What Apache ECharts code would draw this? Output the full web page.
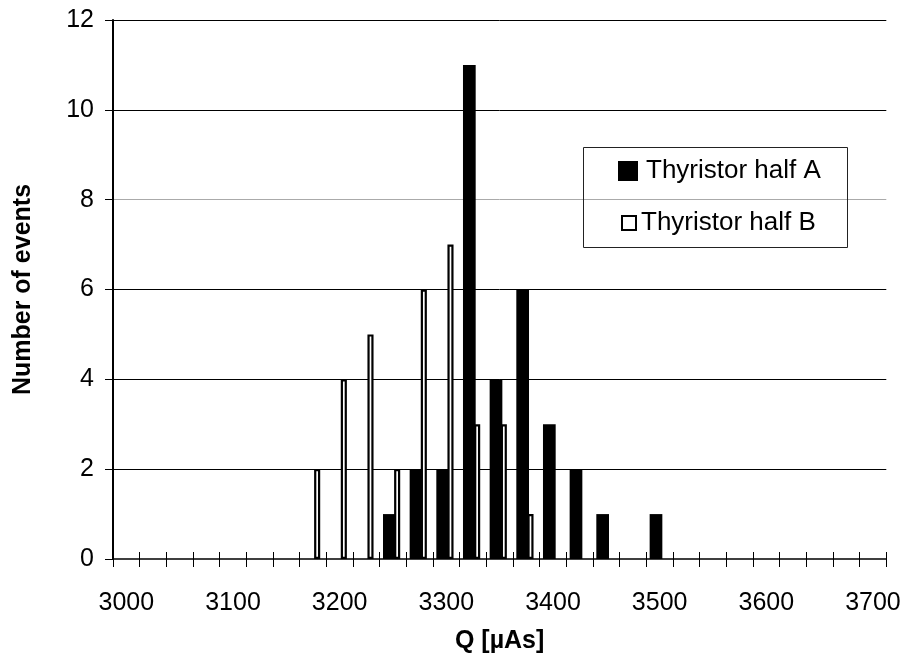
<!DOCTYPE html>
<html>
<head>
<meta charset="utf-8">
<script src="https://cdn.jsdelivr.net/npm/echarts@6/dist/echarts.min.js"></script>
<style>
html,body{margin:0;padding:0;background:#fff;}
#chart{width:905px;height:657px;}
</style>
</head>
<body>
<div id="chart"></div>
<script>
const categories = ['3000','3025','3050','3075','3100','3125','3150','3175','3200','3225','3250','3275','3300','3325','3350','3375','3400','3425','3450','3475','3500','3525','3550','3575','3600','3625','3650','3675','3700'];
const halfA = [0,0,0,0,0,0,0,0,0,0,1,2,2,11,4,6,3,2,1,0,1,0,0,0,0,0,0,0,0];
const halfB = [0,0,0,0,0,0,0,2,4,5,2,6,7,3,3,1,0,0,0,0,0,0,0,0,0,0,0,0,0];
const yTicks = {min: 0, max: 12, interval: 2};
const nameA = 'Thyristor half A';
const nameB = 'Thyristor half B';

const FONT = "'Liberation Sans', Arial, sans-serif";
const chart = echarts.init(document.getElementById('chart'), null, {renderer: 'canvas'});
const toBars = arr => arr.map(v => v === 0 ? '-' : v);

chart.setOption({
  animation: false,
  backgroundColor: '#fff',
  textStyle: {fontFamily: FONT, color: '#000'},
  grid: {left: 113, right: 18.7, top: 20, bottom: 98, containLabel: false, outerBoundsMode: 'none'},
  legend: [
    {
      data: [{name: nameA, itemStyle: {color: '#000', borderWidth: 0}}],
      left: 618, top: 158, padding: 0,
      itemWidth: 20, itemHeight: 20, itemGap: 0,
      icon: 'rect',
      selectedMode: false,
      textStyle: {fontSize: 26, fontFamily: FONT, color: '#000', padding: [0, 0, 0, 3]}
    },
    {
      data: [{name: nameB, itemStyle: {color: '#fff', borderColor: '#000', borderWidth: 2}}],
      left: 621, top: 210, padding: 0,
      itemWidth: 14, itemHeight: 14, itemGap: 0,
      icon: 'rect',
      selectedMode: false,
      textStyle: {fontSize: 26, fontFamily: FONT, color: '#000'}
    }
  ],
  graphic: [{
    type: 'rect',
    shape: {x: 583.5, y: 147.5, width: 264, height: 100},
    style: {fill: 'none', stroke: '#222', lineWidth: 1},
    z: 10, silent: true
  }],
  xAxis: [
    {
      type: 'category',
      data: categories,
      boundaryGap: true,
      name: 'Q [µAs]',
      nameLocation: 'middle',
      nameGap: 70,
      nameTextStyle: {fontSize: 25, fontWeight: 'bold', fontFamily: FONT, color: '#000'},
      axisLine: {show: true, lineStyle: {color: '#000', width: 1.5}},
      axisTick: {show: true, interval: 0, length: 8, inside: false, lineStyle: {color: '#000', width: 1}},
      axisLabel: {interval: 3, margin: 32, fontSize: 25, fontFamily: FONT, color: '#000'},
      splitLine: {show: false}
    },
    {
      type: 'category',
      data: categories,
      boundaryGap: true,
      position: 'bottom',
      axisLine: {show: false},
      axisTick: {show: true, interval: 0, length: 7, inside: true, lineStyle: {color: '#000', width: 1}},
      axisLabel: {show: false},
      splitLine: {show: false}
    }
  ],
  yAxis: {
    type: 'value',
    min: yTicks.min, max: yTicks.max, interval: yTicks.interval,
    name: 'Number of events',
    nameLocation: 'middle',
    nameGap: 77,
    nameTextStyle: {fontSize: 25, fontWeight: 'bold', fontFamily: FONT, color: '#000'},
    axisLine: {show: true, lineStyle: {color: '#000', width: 2}},
    axisTick: {show: true, length: 8, inside: false, lineStyle: {color: '#000', width: 1}},
    axisLabel: {margin: 19, fontSize: 25, fontFamily: FONT, color: '#000'},
    splitLine: {
      show: true, showMinLine: false, showMaxLine: true,
      lineStyle: {color: ['#000', '#000', '#000', '#aaa', '#000', '#000'], width: 1}
    }
  },
  series: [
    {
      name: nameA, type: 'bar', xAxisIndex: 0,
      data: toBars(halfA),
      barWidth: 12.7, barGap: '-12.44%',
      itemStyle: {color: '#000', borderWidth: 0},
      z: 3
    },
    {
      name: nameB, type: 'bar', xAxisIndex: 0,
      data: toBars(halfB),
      barWidth: 6.1, barGap: '-12.44%',
      itemStyle: {color: '#fff', borderColor: '#000', borderWidth: 2.2},
      z: 2
    },
    {
      name: 'spacer', type: 'bar', xAxisIndex: 0,
      data: categories.map(() => '-'),
      barWidth: 3.54, barGap: '-12.44%',
      silent: true,
      itemStyle: {color: 'rgba(0,0,0,0)'}
    }
  ]
});
</script>
</body>
</html>
